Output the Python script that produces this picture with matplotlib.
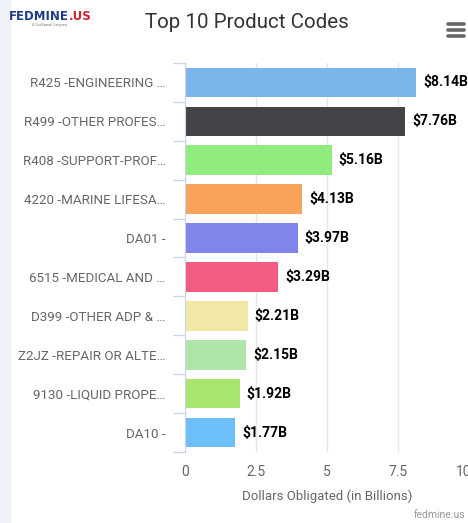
import matplotlib
matplotlib.use('Agg')
import matplotlib.pyplot as plt
from matplotlib.patches import Rectangle
from matplotlib.lines import Line2D
from matplotlib.transforms import ScaledTranslation

# data
codes = ['R425 -ENGINEERING …', 'R499 -OTHER PROFES…', 'R408 -SUPPORT-PROF…',
         '4220 -MARINE LIFESA…', 'DA01 -', '6515 -MEDICAL AND …',
         'D399 -OTHER ADP & …', 'Z2JZ -REPAIR OR ALTE…', '9130 -LIQUID PROPE…',
         'DA10 -']
values = [8.14, 7.76, 5.16, 4.13, 3.97, 3.29, 2.21, 2.15, 1.92, 1.77]
value_labels = ['$8.14B', '$7.76B', '$5.16B', '$4.13B', '$3.97B', '$3.29B',
                '$2.21B', '$2.15B', '$1.92B', '$1.77B']
colors = ['#7cb5ec', '#434348', '#90ed7d', '#f7a35c', '#8085e9', '#f15c80',
          '#f2e9a7', '#aee6aa', '#a9e66f', '#6dbff8']
xticks = [0, 2.5, 5, 7.5, 10]
xtick_labels = ['0', '2.5', '5', '7.5', '10']

plt.rcParams['font.family'] = ['Roboto', 'DejaVu Sans']

W, H = 468, 523
fig = plt.figure(figsize=(W / 100, H / 100), dpi=100)

# light strip on the left
fig.patches.append(Rectangle((0, 0), 10 / W, 1, transform=fig.transFigure,
                             color='#eef1f6', zorder=0))

ax = fig.add_axes([185 / W, 1 - 452 / H, 284 / W, 389 / H])
ypos = list(range(len(values)))
ax.barh(ypos, values, height=0.76, color=colors, zorder=3)

ax.set_xlim(0, 10)
ax.set_ylim(len(values) - 0.5, -0.5)

for y, v, lab in zip(ypos, values, value_labels):
    ax.annotate(lab, (v, y), xytext=(5, 0), textcoords='offset points',
                va='center', ha='left', fontsize=10, fontweight='bold',
                color='#000000', annotation_clip=False)

ax.set_yticks(ypos)
ax.set_yticklabels(codes, fontsize=9.6, color='#666666')
ax.set_yticks([i - 0.5 for i in range(len(values) + 1)], minor=True)
ax.tick_params(axis='y', which='major', length=0, pad=14)
ax.tick_params(axis='y', which='minor', length=9, color='#ccd6eb', width=1)

ax.set_xticks(xticks)
ax.set_xticklabels(xtick_labels, fontsize=10, color='#666666')
ax.tick_params(axis='x', length=0, pad=9)
ax.grid(axis='x', color='#e6e6e6', linewidth=1, zorder=0)
# the last tick label sits at the figure edge, nudge it a bit left
last = ax.get_xticklabels()[-1]
last.set_transform(last.get_transform() + ScaledTranslation(-0.05, 0, fig.dpi_scale_trans))

for s in ['top', 'right', 'bottom']:
    ax.spines[s].set_visible(False)
ax.spines['left'].set_color('#ccd6eb')
ax.spines['left'].set_zorder(4)

ax.set_xlabel('Dollars Obligated (in Billions)', fontsize=9.5, color='#666666',
              labelpad=8)

fig.text(247 / W, 1 - 22 / H, 'Top 10 Product Codes', ha='center', va='center',
         fontsize=14.8, color='#333333')
fig.text(465 / W, 1 - 515 / H, 'fedmine.us', ha='right', va='center',
         fontsize=7.5, color='#999999')

# menu icon
for yy in [24, 30, 36]:
    fig.lines.append(Line2D([448 / W, 464 / W], [1 - yy / H, 1 - yy / H],
                            transform=fig.transFigure, color='#666666',
                            linewidth=2.6, solid_capstyle='round'))

# logo
logo = fig.text(9 / W, 1 - 16 / H, 'FEDMINE', ha='left', va='center',
                fontsize=8.5, fontweight='bold', color='#1f3c88',
                family='Liberation Sans Narrow')
fig.add_artist(matplotlib.text.Annotation(
    '.US', xy=(1, 0.5), xycoords=logo, ha='left', va='center',
    fontsize=8.5, fontweight='bold', color='#d0202e',
    family='Liberation Sans Narrow', annotation_clip=False))
fig.text(50 / W, 1 - 25 / H, 'A GovSpend Company', ha='center', va='center',
         fontsize=2.5, color='#777777')

fig.savefig('out.png', dpi=100)
